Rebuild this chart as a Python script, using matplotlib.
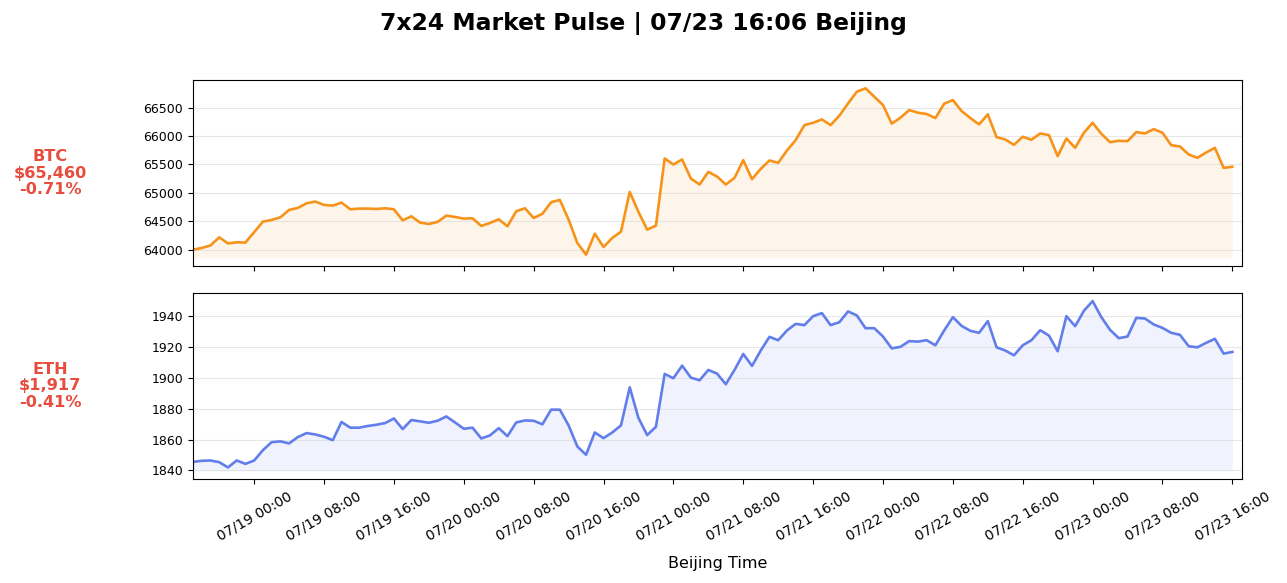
""" 7x24 market pulse: BTC / ETH hourly price. """
import numpy as np
import pandas as pd
import matplotlib
matplotlib.use("Agg")
import matplotlib.pyplot as plt
import matplotlib.dates as mdates

START = "2024-07-18 17:00"
NOW = "2024-07-23 16:06"

btc_prices = [
    64000, 64030, 64075, 64218, 64110, 64130, 64125, 64310, 64494, 64523,
    64570, 64700, 64735, 64817, 64847, 64788, 64776, 64829, 64711, 64723,
    64723, 64717, 64729, 64711, 64517, 64588, 64476, 64453, 64488, 64600,
    64576, 64547, 64553, 64418, 64470, 64535, 64412, 64676, 64729, 64558,
    64632, 64835, 64876, 64530, 64118, 63912, 64282, 64047, 64206, 64318,
    65017, 64664, 64353, 64423, 65605, 65500, 65588, 65252, 65147, 65370,
    65288, 65147, 65264, 65576, 65241, 65423, 65570, 65529, 65746, 65929,
    66193, 66234, 66293, 66193, 66358, 66575, 66781, 66840, 66693, 66546,
    66220, 66323, 66458, 66411, 66388, 66317, 66570, 66634, 66440, 66317,
    66205, 66382, 65982, 65940, 65846, 65988, 65935, 66046, 66017, 65646,
    65958, 65793, 66058, 66234, 66040, 65893, 65917, 65911, 66070, 66046,
    66123, 66058, 65840, 65817, 65676, 65617, 65711, 65793, 65440, 65460,
]

eth_prices = [
    1845.6, 1846.3, 1846.5, 1845.4, 1842.0, 1846.5, 1844.3, 1846.5, 1853.2, 1858.4,
    1858.9, 1857.6, 1861.7, 1864.3, 1863.4, 1861.9, 1859.7, 1871.5, 1867.8, 1867.8,
    1868.9, 1869.7, 1870.8, 1873.8, 1866.9, 1872.8, 1871.9, 1871.0, 1872.3, 1875.1,
    1871.2, 1867.1, 1867.8, 1860.8, 1862.8, 1867.5, 1862.3, 1871.2, 1872.5, 1872.3,
    1870.0, 1879.5, 1879.5, 1869.3, 1855.6, 1850.2, 1864.7, 1861.0, 1864.7, 1869.3,
    1894.0, 1874.1, 1863.0, 1868.4, 1902.7, 1899.9, 1908.1, 1900.3, 1898.6, 1905.3,
    1902.9, 1896.0, 1905.3, 1915.7, 1907.9, 1917.9, 1926.8, 1924.6, 1930.9, 1935.2,
    1934.4, 1940.2, 1942.2, 1934.4, 1936.3, 1943.3, 1940.7, 1932.4, 1932.4, 1927.0,
    1919.3, 1920.3, 1924.0, 1923.7, 1924.6, 1921.3, 1930.9, 1939.6, 1933.9, 1930.7,
    1929.4, 1937.0, 1920.0, 1917.9, 1914.8, 1921.3, 1924.6, 1931.1, 1927.6, 1917.4,
    1940.2, 1933.7, 1943.7, 1950.0, 1939.6, 1931.3, 1925.9, 1927.0, 1939.1, 1938.7,
    1934.8, 1932.6, 1929.4, 1928.1, 1920.7, 1920.0, 1922.9, 1925.5, 1915.9, 1917.0,
]

coins = ["BTC", "ETH"]
changes = [-0.71, -0.41]
colors = ["#f7931a", "#627eea"]


def main() -> None:
    """Draw the two stacked price panels. """
    times = pd.date_range(START, periods=len(btc_prices), freq="h")
    now = pd.Timestamp(NOW)

    fig, axes = plt.subplots(2, 1, figsize=(12.87, 5.83), dpi=100, sharex=True)
    fig.subplots_adjust(left=0.150, right=0.965, top=0.863, bottom=0.178, hspace=0.14)

    for ax, coin, prices, chg, color in zip(axes, coins, [btc_prices, eth_prices],
                                            changes, colors):
        prices = np.array(prices)
        base = prices.min() - 0.02 * (prices.max() - prices.min())
        ax.plot(times, prices, color=color, lw=1.9)
        ax.fill_between(times, prices, base, color=color, alpha=0.09, lw=0)
        ax.grid(axis="y", color="#d8d8d8", alpha=0.6, lw=0.8)
        ax.tick_params(axis="y", labelsize=9)
        ax.text(-0.136, 0.5, f"{coin}\n${prices[-1]:,.0f}\n{chg:+.2f}%",
                transform=ax.transAxes, ha="center", va="center",
                fontsize=11.6, fontweight="bold", color="#e74c3c", linespacing=1.1)

    axes[1].set_xlim(times[0], now + pd.Timedelta(hours=1))
    axes[1].xaxis.set_major_locator(mdates.HourLocator(byhour=[0, 8, 16]))
    axes[1].xaxis.set_major_formatter(mdates.DateFormatter("%m/%d %H:%M"))
    plt.setp(axes[1].get_xticklabels(), rotation=30, ha="center", fontsize=10)
    axes[1].set_xlabel("Beijing Time", fontsize=11.5, labelpad=9)

    fig.suptitle(f"7x24 Market Pulse | {now:%m/%d %H:%M} Beijing",
                 fontsize=16.9, fontweight="bold", y=0.979)

    fig.savefig("out.png", dpi=100)
    plt.close(fig)


if __name__ == "__main__":
    main()
